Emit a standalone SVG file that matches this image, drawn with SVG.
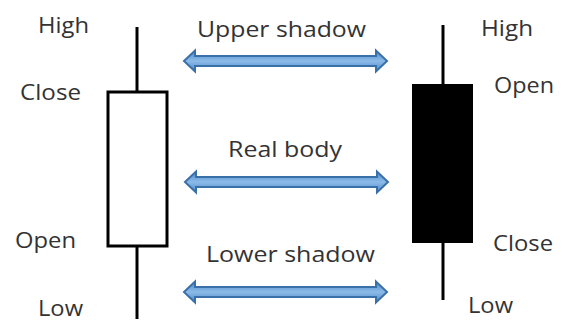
<svg xmlns="http://www.w3.org/2000/svg" width="562" height="322" viewBox="0 0 562 322">
  <style>
    .lbl { font-family: "Open Sans", "Liberation Sans", sans-serif; font-size: 22px; fill: #333333; }
    .wick { stroke: #000000; stroke-width: 3; fill: none; }
    .arrow { fill: url(#arrowGrad); stroke: #3A70A8; stroke-width: 2; stroke-linejoin: miter; }
  </style>
  <defs>
    <linearGradient id="arrowGrad" x1="0" y1="0" x2="0" y2="1">
      <stop offset="0" stop-color="#4A88CA"/>
      <stop offset="0.5" stop-color="#8DBBE8"/>
      <stop offset="1" stop-color="#4A88CA"/>
    </linearGradient>
    <path id="dblArrow" d="M0,0 L11,-10.5 L11,-5 L192,-5 L192,-10.5 L203,0 L192,10.5 L192,5 L11,5 L11,10.5 Z"/>
  </defs>
  <rect width="562" height="322" fill="#ffffff"/>

  <g id="bullish-candle">
    <line class="wick" x1="137" y1="27" x2="137" y2="92"/>
    <rect x="108" y="92" width="59" height="154" fill="#ffffff" stroke="#000000" stroke-width="3"/>
    <line class="wick" x1="137" y1="246" x2="137" y2="319"/>
    <text class="lbl" x="38" y="33" textLength="51" lengthAdjust="spacingAndGlyphs">High</text>
    <text class="lbl" x="20" y="100" textLength="61" lengthAdjust="spacingAndGlyphs">Close</text>
    <text class="lbl" x="15" y="248" textLength="61" lengthAdjust="spacingAndGlyphs">Open</text>
    <text class="lbl" x="38" y="316" textLength="45" lengthAdjust="spacingAndGlyphs">Low</text>
  </g>

  <g id="bearish-candle">
    <line class="wick" x1="443" y1="25" x2="443" y2="84"/>
    <rect x="412" y="84" width="61" height="159" fill="#000000"/>
    <line class="wick" x1="443" y1="243" x2="443" y2="300"/>
    <text class="lbl" x="481" y="36" textLength="52" lengthAdjust="spacingAndGlyphs">High</text>
    <text class="lbl" x="494" y="93" textLength="60" lengthAdjust="spacingAndGlyphs">Open</text>
    <text class="lbl" x="493" y="251" textLength="60" lengthAdjust="spacingAndGlyphs">Close</text>
    <text class="lbl" x="468" y="313" textLength="45" lengthAdjust="spacingAndGlyphs">Low</text>
  </g>

  <g id="connectors">
    <use href="#dblArrow" class="arrow" transform="translate(184,61)"/>
    <use href="#dblArrow" class="arrow" transform="translate(185,182)"/>
    <use href="#dblArrow" class="arrow" transform="translate(184,292)"/>
  </g>

  <g id="labels">
    <text class="lbl" x="197" y="37" textLength="169" lengthAdjust="spacingAndGlyphs">Upper shadow</text>
    <text class="lbl" x="228" y="157" textLength="114" lengthAdjust="spacingAndGlyphs">Real body</text>
    <text class="lbl" x="206" y="262" textLength="169" lengthAdjust="spacingAndGlyphs">Lower shadow</text>
  </g>
</svg>
